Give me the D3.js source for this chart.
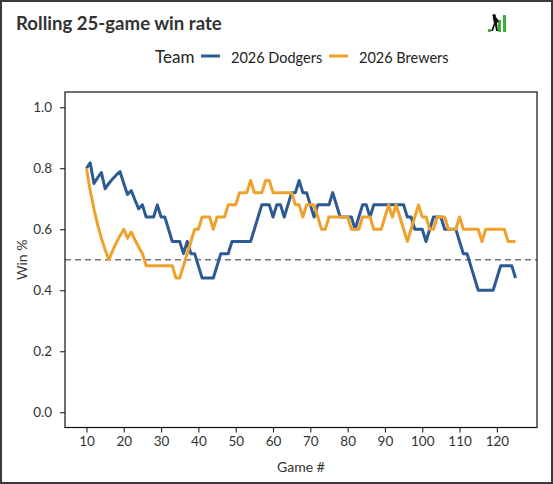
<!DOCTYPE html>
<html>
<head>
<meta charset="utf-8">
<script src="https://cdn.jsdelivr.net/npm/d3@7"></script>
<style>
  html, body { margin: 0; padding: 0; background: #fff; }
  svg { display: block; font-family: Lato, "Open Sans", sans-serif; }
</style>
</head>
<body>
<svg id="chart" width="553" height="484"></svg>
<script>
// ---- data ----
const teams = ["2026 Dodgers", "2026 Brewers"];
const teamColors = ["#2c5a92", "#f0a12c"];
const firstGame = 10;
const dodgers = [
  0.800, 0.818, 0.750, 0.769, 0.786, 0.733, 0.750, 0.765, 0.778, 0.789,
  0.750, 0.714, 0.727, 0.696, 0.667, 0.68, 0.64, 0.64, 0.64, 0.68,
  0.64, 0.64, 0.60, 0.56, 0.56, 0.56, 0.52, 0.56, 0.52, 0.52,
  0.48, 0.44, 0.44, 0.44, 0.44, 0.48, 0.52, 0.52, 0.52, 0.56,
  0.56, 0.56, 0.56, 0.56, 0.56, 0.60, 0.64, 0.68, 0.68, 0.68,
  0.64, 0.68, 0.68, 0.64, 0.68, 0.72, 0.72, 0.76, 0.72, 0.72,
  0.68, 0.64, 0.68, 0.68, 0.68, 0.68, 0.72, 0.68, 0.64, 0.64,
  0.64, 0.64, 0.60, 0.64, 0.68, 0.68, 0.64, 0.68, 0.68, 0.68,
  0.68, 0.68, 0.68, 0.68, 0.68, 0.68, 0.64, 0.64, 0.60, 0.60,
  0.60, 0.56, 0.60, 0.64, 0.64, 0.64, 0.60, 0.60, 0.60, 0.60,
  0.56, 0.52, 0.52, 0.48, 0.44, 0.40, 0.40, 0.40, 0.40, 0.40,
  0.44, 0.48, 0.48, 0.48, 0.48, 0.44
];
const brewers = [
  0.800, 0.727, 0.667, 0.615, 0.571, 0.533, 0.500, 0.529, 0.556, 0.579,
  0.600, 0.571, 0.591, 0.565, 0.542, 0.52, 0.48, 0.48, 0.48, 0.48,
  0.48, 0.48, 0.48, 0.48, 0.44, 0.44, 0.48, 0.52, 0.56, 0.60,
  0.60, 0.64, 0.64, 0.64, 0.60, 0.64, 0.64, 0.64, 0.68, 0.68,
  0.68, 0.72, 0.72, 0.72, 0.76, 0.72, 0.72, 0.72, 0.76, 0.76,
  0.72, 0.72, 0.72, 0.72, 0.72, 0.72, 0.68, 0.68, 0.64, 0.68,
  0.68, 0.68, 0.64, 0.60, 0.60, 0.64, 0.64, 0.64, 0.64, 0.64,
  0.64, 0.60, 0.60, 0.60, 0.64, 0.64, 0.64, 0.60, 0.60, 0.60,
  0.64, 0.68, 0.64, 0.68, 0.64, 0.60, 0.56, 0.60, 0.64, 0.68,
  0.64, 0.64, 0.60, 0.60, 0.64, 0.64, 0.64, 0.60, 0.60, 0.60,
  0.64, 0.60, 0.60, 0.60, 0.60, 0.60, 0.56, 0.60, 0.60, 0.60,
  0.60, 0.60, 0.60, 0.56, 0.56, 0.56
];
const seriesValues = [dodgers, brewers];
const xTicks = [10, 20, 30, 40, 50, 60, 70, 80, 90, 100, 110, 120];
const yTicks = [0.0, 0.2, 0.4, 0.6, 0.8, 1.0];
const refLine = 0.5;

// ---- layout ----
const svg = d3.select("#chart");
const W = 553, H = 484;
const plot = { left: 65, right: 537, top: 92, bottom: 427.5 };
const textColor = "#333";

svg.append("rect").attr("x", 0).attr("y", 0).attr("width", W).attr("height", H).attr("fill", "#fff");
svg.append("rect").attr("x", 1).attr("y", 1).attr("width", W - 2).attr("height", H - 2)
  .attr("fill", "none").attr("stroke", "#3a3a3a").attr("stroke-width", 2);

const games = d3.range(firstGame, firstGame + dodgers.length);
const gMin = d3.min(games), gMax = d3.max(games);
const pad = (gMax - gMin) * 0.05;
const x = d3.scaleLinear().domain([gMin - pad, gMax + pad]).range([plot.left, plot.right]);
const y = d3.scaleLinear().domain([-0.05, 1.05]).range([plot.bottom, plot.top]);

// title
svg.append("text").attr("x", 16).attr("y", 30)
  .attr("font-size", 18.6).attr("font-weight", 700).attr("fill", textColor)
  .text("Rolling 25-game win rate");

// logo
const logo = svg.append("g").attr("transform", "translate(488,13)");
logo.append("rect").attr("x", 0).attr("y", 16).attr("width", 3).attr("height", 3).attr("fill", "#3fae3a");
logo.append("rect").attr("x", 10).attr("y", 7).attr("width", 3).attr("height", 12).attr("fill", "#3fae3a");
logo.append("rect").attr("x", 15).attr("y", 2).attr("width", 3).attr("height", 17).attr("fill", "#3fae3a");
logo.append("path").attr("d", "M5,3 L7,1 L8,4 L11,8 L9,10 L10,18 L8,18 L7,12 L5,18 L3,18 L6,10 L5,6 Z").attr("fill", "#111");
logo.append("circle").attr("cx", 6).attr("cy", 2.5).attr("r", 1.6).attr("fill", "#111");

// legend
const leg = svg.append("g");
leg.append("text").attr("x", 155).attr("y", 63).attr("font-size", 17).attr("fill", "#222").text("Team");
const legItems = [{ x: 201, tx: 231 }, { x: 329, tx: 359 }];
teams.forEach((t, i) => {
  leg.append("line").attr("x1", legItems[i].x).attr("x2", legItems[i].x + 19)
    .attr("y1", 56).attr("y2", 56).attr("stroke", teamColors[i]).attr("stroke-width", 3);
  leg.append("text").attr("x", legItems[i].tx).attr("y", 62.5).attr("font-size", 14.5)
    .attr("fill", "#222").text(t);
});

// axes
const xAxis = d3.axisBottom(x).tickValues(xTicks).tickSize(5).tickPadding(4).tickFormat(d3.format("d"));
const yAxis = d3.axisLeft(y).tickValues(yTicks).tickSize(5).tickPadding(8).tickFormat(d3.format(".1f"));

const gx = svg.append("g").attr("transform", `translate(0,${plot.bottom})`).call(xAxis);
const gy = svg.append("g").attr("transform", `translate(${plot.left},0)`).call(yAxis);
[gx, gy].forEach(g => {
  g.select(".domain").remove();
  g.selectAll(".tick line").attr("stroke", "#222").attr("stroke-width", 1.1);
  g.selectAll(".tick text").attr("font-size", 13.5).attr("fill", textColor).attr("font-family", "Lato");
});

// reference line
svg.append("line").attr("x1", plot.left).attr("x2", plot.right)
  .attr("y1", y(refLine)).attr("y2", y(refLine))
  .attr("stroke", "#777").attr("stroke-width", 1.4).attr("stroke-dasharray", "6,4");

// series lines
const line = d3.line().x((d, i) => x(games[i])).y(d => y(d));
seriesValues.forEach((vals, i) => {
  svg.append("path").datum(vals).attr("d", line)
    .attr("fill", "none").attr("stroke", teamColors[i]).attr("stroke-width", 3)
    .attr("stroke-linejoin", "round").attr("stroke-linecap", "butt");
});

// frame
svg.append("rect").attr("x", plot.left).attr("y", plot.top)
  .attr("width", plot.right - plot.left).attr("height", plot.bottom - plot.top)
  .attr("fill", "none").attr("stroke", "#111").attr("stroke-width", 1.2);

// axis labels
svg.append("text").attr("x", (plot.left + plot.right) / 2).attr("y", 472)
  .attr("text-anchor", "middle").attr("font-size", 14).attr("fill", textColor).text("Game #");
svg.append("text").attr("transform", `translate(27,${(plot.top + plot.bottom) / 2}) rotate(-90)`)
  .attr("text-anchor", "middle").attr("font-size", 14).attr("fill", textColor).text("Win %");
</script>
</body>
</html>
